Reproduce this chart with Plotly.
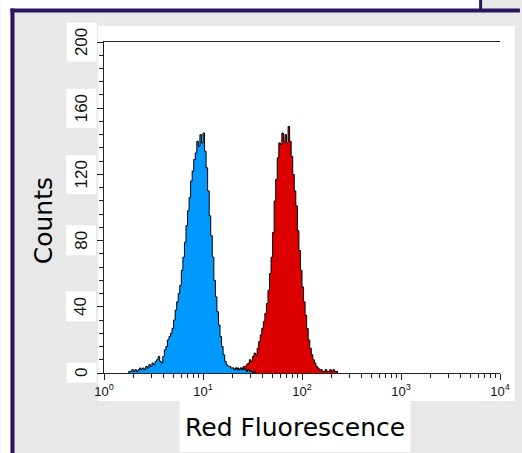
import plotly.graph_objects as go

# Histogram channels: 64 log-spaced channels per decade over 10^0 .. 10^4
CHANNELS_PER_DECADE = 64

# Control sample (blue), counts per channel starting at channel blue_start
blue_start = 16
blue_counts = [1, 1, 2, 1, 2, 1, 2, 3, 2, 3, 2, 4, 3, 5, 4, 6, 5, 7, 8, 10,
               7, 6, 10, 14, 16, 20, 22, 24, 27, 32, 38, 43, 48, 53, 62, 70,
               79, 89, 98, 106, 116, 122, 129, 133, 140, 137, 144, 139, 145,
               134, 124, 110, 95, 83, 70, 56, 46, 37, 29, 22, 16, 11, 7, 5, 4,
               4, 3, 3, 2, 3, 2, 2, 3, 2, 3, 2, 1, 2, 1, 1, 0, 1]

# Stained sample (red), counts per channel starting at channel red_start
red_start = 80
red_counts = [1, 2, 2, 3, 2, 3, 3, 2, 3, 3, 4, 4, 5, 6, 8, 7, 10, 12, 11, 15,
              19, 23, 27, 31, 36, 42, 50, 60, 70, 85, 104, 117, 130, 139, 138,
              145, 140, 144, 139, 149, 140, 131, 120, 110, 101, 86, 74, 62, 52,
              43, 35, 27, 20, 15, 11, 8, 6, 4, 3, 2, 2, 1, 1, 2, 1, 1, 2, 1, 2,
              1, 1]

y_tick_values = [0, 40, 80, 120, 160, 200]
y_minor_step = 8
x_decades = [1, 10, 100, 1000, 10000]
x_tick_labels = ["10<sup>0</sup>", "10<sup>1</sup>", "10<sup>2</sup>",
                 "10<sup>3</sup>", "10<sup>4</sup>"]
x_minor_values = [m * d for d in [1, 10, 100, 1000] for m in range(2, 10)]

W, H = 522, 453
ML, MR, MT, MB = 104, 20, 42, 80
PW, PH = W - ML - MR, H - MT - MB

FRAME = "#2a1460"
PANEL_GRAY = "#e8e8e8"


def px(x):
    return (x - ML) / PW


def py(y):
    return (H - MB - y) / PH


def hist_trace(start, counts, color):
    edges = [10 ** ((start + k) / CHANNELS_PER_DECADE) for k in range(len(counts) + 1)]
    xs = [edges[0]] + edges[:-1] + [edges[-1], edges[-1]]
    ys = [0] + counts + [counts[-1], 0]
    return go.Scatter(x=xs, y=ys, mode="lines", line_shape="hv",
                      line=dict(color="black", width=1),
                      fill="tozeroy", fillcolor=color,
                      hoverinfo="skip", showlegend=False)


fig = go.Figure()
fig.add_trace(hist_trace(red_start, red_counts, "rgb(221,0,0)"))
fig.add_trace(hist_trace(blue_start, blue_counts, "rgb(0,153,255)"))

shapes = [
    # white chart panel
    dict(type="rect", xref="paper", yref="paper", layer="below",
         x0=px(98), x1=px(517), y0=py(401), y1=py(26),
         fillcolor="white", line=dict(width=0)),
    # x-title box
    dict(type="rect", xref="paper", yref="paper", layer="below",
         x0=px(180), x1=px(412), y0=py(452), y1=py(401),
         fillcolor="white", line=dict(width=0)),
    # outer window edges
    dict(type="rect", xref="paper", yref="paper", layer="above",
         x0=px(0), x1=px(482), y0=py(10), y1=py(0),
         fillcolor="white", line=dict(width=0)),
    dict(type="rect", xref="paper", yref="paper", layer="above",
         x0=px(0), x1=px(10), y0=py(453), y1=py(0),
         fillcolor="white", line=dict(width=0)),
    dict(type="rect", xref="paper", yref="paper", layer="above",
         x0=px(10), x1=px(522), y0=py(12.5), y1=py(8.5),
         fillcolor=FRAME, line=dict(width=0)),
    dict(type="rect", xref="paper", yref="paper", layer="above",
         x0=px(10), x1=px(14), y0=py(453), y1=py(8.5),
         fillcolor=FRAME, line=dict(width=0)),
    dict(type="rect", xref="paper", yref="paper", layer="above",
         x0=px(481), x1=px(484), y0=py(10), y1=py(0),
         fillcolor=FRAME, line=dict(width=0)),
]

annotations = [
    dict(text=str(v), x=px(81), y=v, xref="paper", yref="y",
         textangle=-90, showarrow=False, xanchor="center", yanchor="middle",
         bgcolor="white", borderpad=5,
         font=dict(family="Liberation Sans, Arial", size=17, color="#111"))
    for v in y_tick_values
]
annotations += [
    dict(text="Counts", x=px(43), y=py(221), xref="paper", yref="paper",
         textangle=-90, showarrow=False, xanchor="center", yanchor="middle",
         font=dict(family="DejaVu Sans", size=25, color="black")),
    dict(text="Red Fluorescence", x=px(296), y=py(427), xref="paper",
         yref="paper", showarrow=False, xanchor="center", yanchor="middle",
         font=dict(family="DejaVu Sans", size=25, color="black")),
]

fig.update_layout(
    width=W, height=H,
    margin=dict(l=ML, r=MR, t=MT, b=MB, pad=0),
    paper_bgcolor=PANEL_GRAY,
    plot_bgcolor="rgba(0,0,0,0)",
    shapes=shapes,
    annotations=annotations,
    xaxis=dict(type="log", range=[0, 4], showgrid=False, zeroline=False,
               showline=True, linecolor="#222", linewidth=1, mirror=True,
               tickmode="array", tickvals=x_decades, ticktext=x_tick_labels,
               ticks="outside", ticklen=6, tickcolor="#222", tickwidth=1,
               tickfont=dict(family="Liberation Sans, Arial", size=13, color="#111"),
               minor=dict(tickmode="array", tickvals=x_minor_values,
                          ticks="outside", ticklen=4, tickcolor="#222",
                          showgrid=False)),
    yaxis=dict(range=[0, 200], showgrid=False, zeroline=False,
               showline=True, linecolor="#222", linewidth=1,
               tickmode="array", tickvals=y_tick_values, showticklabels=False,
               ticks="outside", ticklen=6, tickcolor="#222", tickwidth=1,
               minor=dict(dtick=y_minor_step, ticks="outside", ticklen=4,
                          tickcolor="#222", showgrid=False)),
)

fig.write_html("out.html")
